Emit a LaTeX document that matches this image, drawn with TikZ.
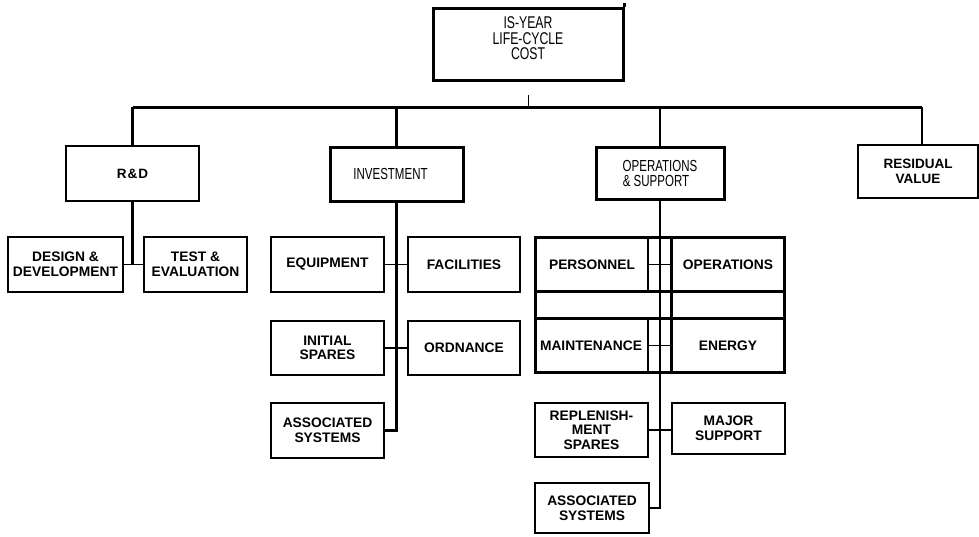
\documentclass[tikz,border=0pt]{standalone}
\usepackage{fontspec}
\setmainfont{Liberation Sans}
\newfontfamily\narrowfont[FakeStretch=0.72]{Liberation Sans}
\begin{document}
\begin{tikzpicture}[x=1pt,y=-1pt,
  box/.style={draw, inner sep=0pt, align=center},
  headbox/.style={box, line width=3pt, font=\narrowfont\fontsize{16}{15}\selectfont},
  sidebox/.style={box, line width=1.5pt, font=\bfseries\fontsize{13.5}{15}\selectfont},
  kid/.style={box, line width=1.3pt, font=\bfseries\fontsize{13.8}{14.6}\selectfont},
  bus/.style={line width=3pt},
  drop/.style={line width=2.6pt},
  spine/.style={line width=2.2pt},
  link/.style={line width=1.4pt},
  frame/.style={line width=3pt}]
\useasboundingbox (0,0) rectangle (979,536);

% root of the cost tree
\node[box, line width=3pt, minimum width=190pt, minimum height=72pt,
      label={[font=\narrowfont\fontsize{17}{15.5}\selectfont, align=center, yshift=5.5pt]center:IS-YEAR\\LIFE-CYCLE\\COST}]
  (top) at (528,44) {};
\draw[line width=3pt] (top.north east) -- ++(0,-4);
\coordinate (stubA) at (528,95);
\coordinate (stubB) at (528,106);
\draw[line width=0.8pt] (stubA) -- (stubB);

% first level
\node[sidebox, minimum width=133pt, minimum height=55pt] (rd)  at (132.5,173.5) {R\kern1pt\&\kern1pt D};
\node[headbox, minimum width=133pt, minimum height=54pt] (inv) at (396.5,174) {\kern-12pt INVESTMENT};
\node[headbox, minimum width=128pt, minimum height=52pt] (ops) at (660,173) {OPERATIONS\\\kern-8pt\& SUPPORT};
\node[sidebox, minimum width=120pt, minimum height=53pt] (res) at (918,171.5) {RESIDUAL\\VALUE};

\coordinate (busL) at (132.5,107);
\coordinate (busR) at (922,107);
\draw[bus] (busL) -- (busR);
\draw[drop] (busL) -- (rd.north);
\draw[drop] (inv.north |- busL) -- (inv.north);
\draw[drop] (ops.north |- busL) -- (ops.north);
\draw[drop] (busR) -- (busR |- res.north);

% R&D branch
\node[kid, minimum width=115pt, minimum height=55pt] (dd) at (65.5,264.5) {DESIGN \&\\DEVELOPMENT};
\node[kid, minimum width=103pt, minimum height=55pt] (te) at (195.5,264.5) {TEST \&\\EVALUATION};
\draw[spine] (rd.south) -- (rd.south |- dd.east);
\draw[link] (dd.east) -- (te.west);

% investment branch
\node[kid, minimum width=113pt, minimum height=55pt] (eq)  at (327.5,264.5) {EQUIPMENT};
\node[kid, minimum width=112pt, minimum height=55pt] (fac) at (464,264.5) {FACILITIES};
\node[kid, minimum width=113pt, minimum height=54pt] (isp) at (327.5,348) {INITIAL\\SPARES};
\node[kid, minimum width=112pt, minimum height=54pt] (ord) at (464,348) {ORDNANCE};
\node[kid, minimum width=113pt, minimum height=55pt] (as1) at (327.5,430.5) {ASSOCIATED\\SYSTEMS};
\draw[spine] (inv.south) |- (as1.east);
\draw[link] (eq.east) -- (fac.west);
\draw[link] (isp.east) -- (ord.west);

% operations & support branch
\node[kid, minimum width=112pt, minimum height=53pt] (per) at (592,264.5) {PERSONNEL};
\node[kid, minimum width=112pt, minimum height=53pt] (opr) at (728,264.5) {OPERATIONS};
\node[kid, minimum width=112pt, minimum height=53pt] (mnt) at (592,345.5) {\kern-2pt MAINTENANCE};
\node[kid, minimum width=112pt, minimum height=53pt] (ene) at (728,345.5) {ENERGY};
\node[kid, minimum width=113pt, minimum height=54pt] (rep) at (591.5,430) {REPLENISH-\\MENT\\SPARES};
\node[kid, minimum width=113pt, minimum height=51pt] (maj) at (728.5,428.5) {MAJOR\\SUPPORT};
\node[kid, minimum width=114pt, minimum height=50pt] (as2) at (592,508) {ASSOCIATED\\SYSTEMS};

\draw[frame] (per.north west) rectangle (ene.south east);
\draw[frame] (per.south west) -- (opr.south east);
\draw[frame] (mnt.north west) -- (ene.north east);
\draw[frame] (opr.north west) -- (ene.south west);
\draw[drop] (ops.south) |- (as2.east);
\draw[link] (per.east) -- (opr.west);
\draw[link] (mnt.east) -- (ene.west);
\draw[link] (rep.east) -- (rep.east -| maj.west);
\end{tikzpicture}
\end{document}
